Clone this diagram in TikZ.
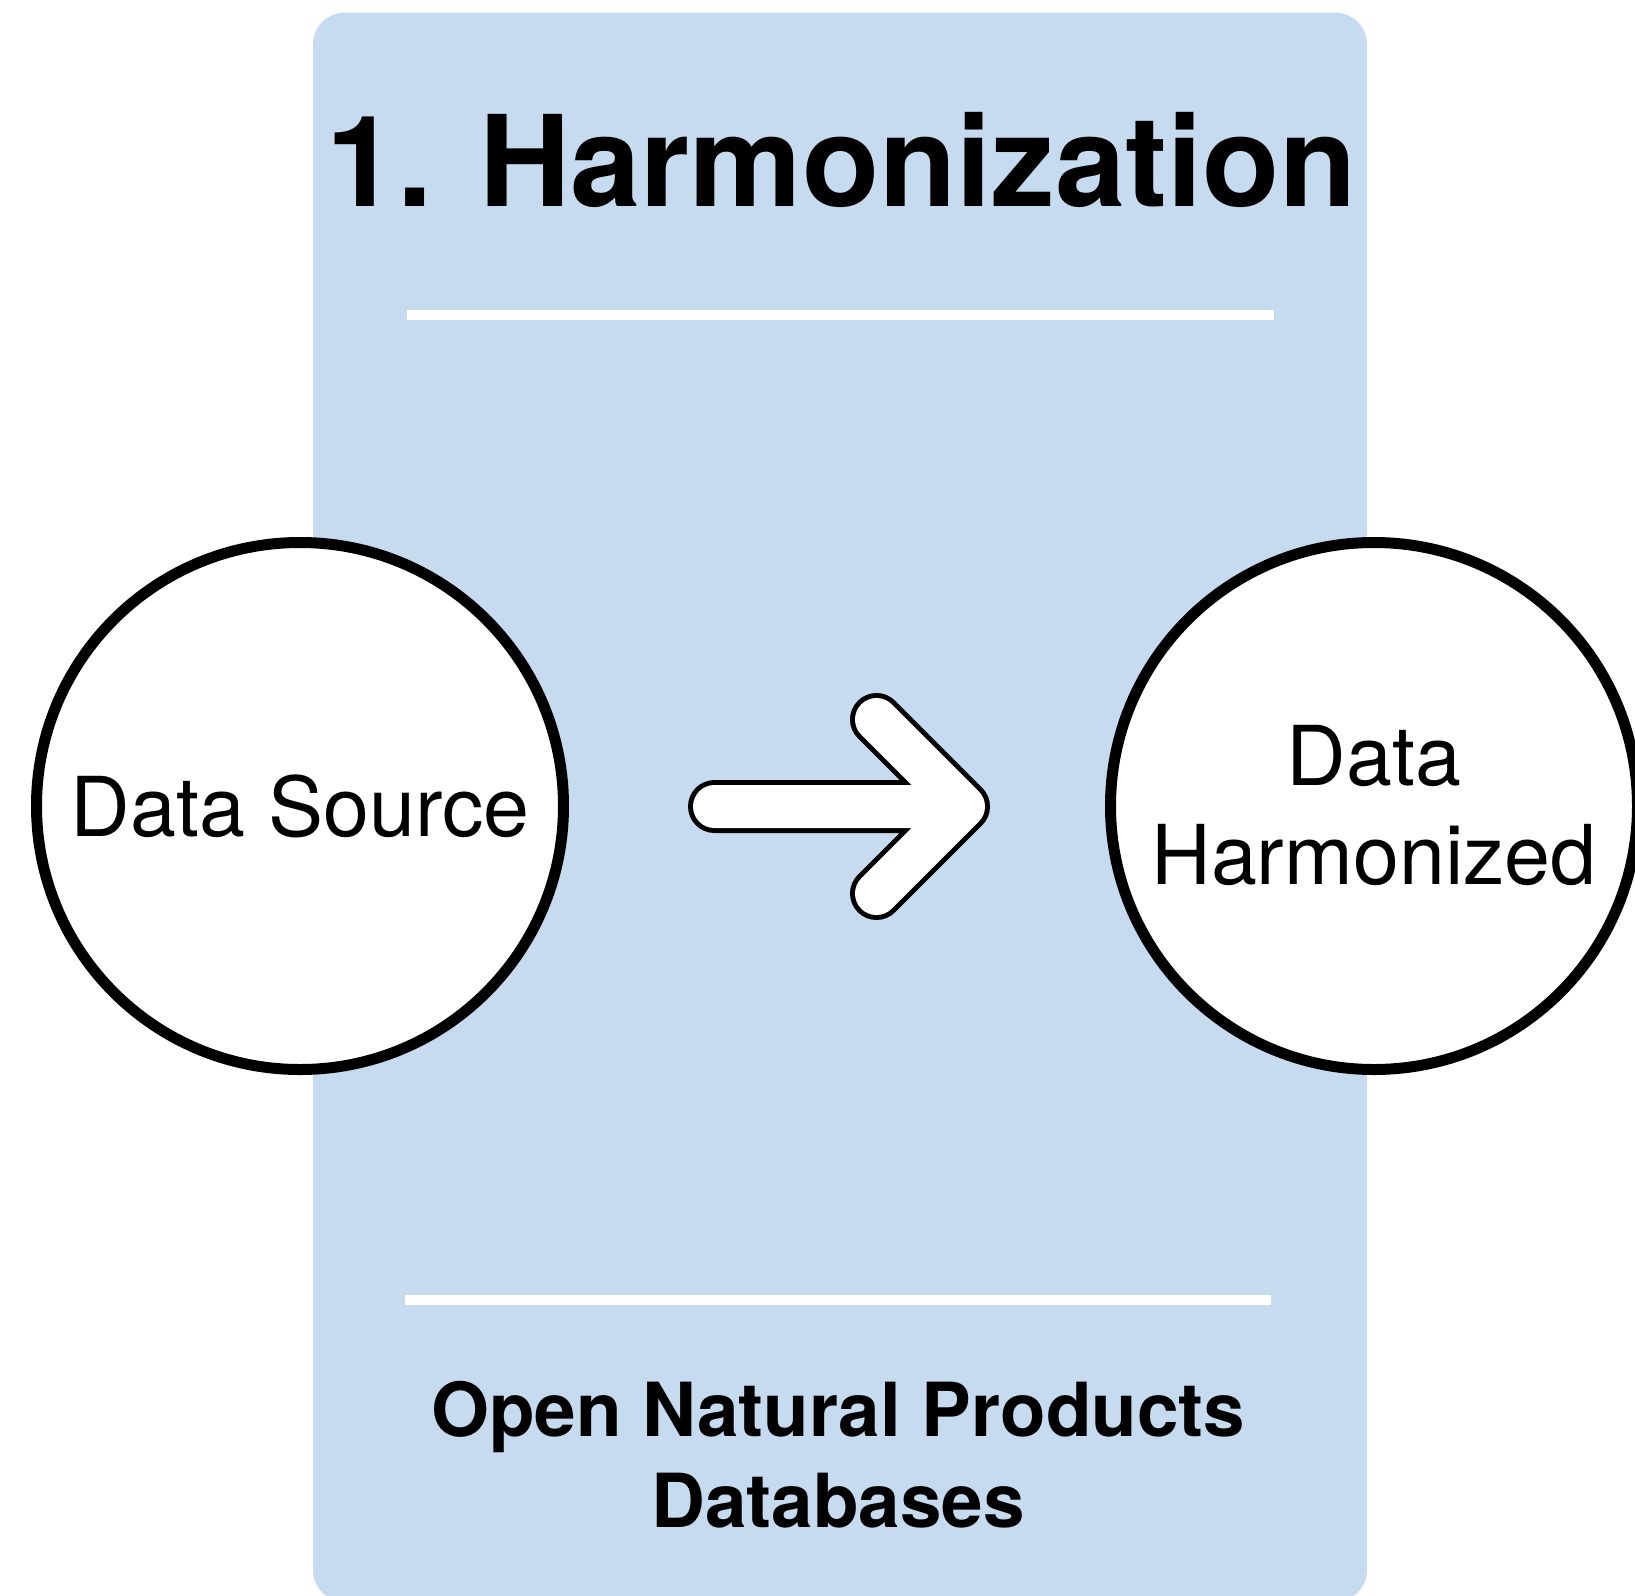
\documentclass[tikz,border=0pt]{standalone}
\usepackage{fontspec}
\setmainfont{TeX Gyre Heros}
\definecolor{panelblue}{RGB}{198,219,239}
\tikzset{
  bubble/.style={circle,draw=black,fill=white,line width=5.5pt,minimum size=263.5pt,
    inner sep=0pt,align=center,font=\fontsize{41.3}{49.5}\selectfont},
  whiterule/.style={white,line width=5pt},
  arrowout/.style={black,line width=26.5pt,line cap=round,line join=round},
  arrowin/.style={white,line width=21.5pt,line cap=round,line join=round}
}
\begin{document}
\begin{tikzpicture}[x=0.5pt,y=-0.5pt]
\useasboundingbox (0,0) rectangle (1635,1596);
\fill[panelblue,rounded corners=16pt] (313,12.5) rectangle (1367,1602);
\node[anchor=base,font=\bfseries\fontsize{63.2}{70}\selectfont] (title) at (842,206.5) {1. Harmonization};
\draw[whiterule] (407,315) -- (1274,315);
\draw[whiterule] (405,1300) -- (1271,1300);
\node[align=center,font=\bfseries\fontsize{37.3}{45.5}\selectfont] (dbname) at (838,1455) {Open Natural Products\\Databases};
\node[bubble] (source) at (300,806) {Data Source};
\node[bubble] (harmonized) at (1374,806) {Data\\Harmonized};
\coordinate (tail) at (714.5,806.5);
\coordinate (tip) at (963.5,806.5);
\coordinate (armup) at (876.5,719.5);
\coordinate (armdown) at (876.5,893.5);
\draw[arrowout] (tail) -- (tip) (armup) -- (tip) -- (armdown);
\draw[arrowin] (tail) -- (tip) (armup) -- (tip) -- (armdown);
\end{tikzpicture}
\end{document}
